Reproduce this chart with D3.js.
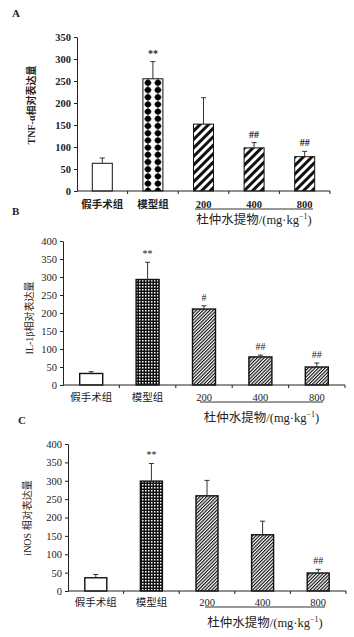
<!DOCTYPE html>
<html>
<head>
<meta charset="utf-8">
<script src="https://cdn.jsdelivr.net/npm/d3@7"></script>
<style>
  body { margin: 0; background: #fff; }
  svg { display: block; }
  text { font-family: "Liberation Serif", "Times New Roman", "Noto Sans CJK SC", serif; fill: #222; }
</style>
</head>
<body>
<svg id="chart" width="354" height="637"></svg>
<script>
// données
const categories = ["假手术组", "模型组", "200", "400", "800"];
const doseLabel = "杜仲水提物/(mg·kg";

const tnfMeans = [63, 255, 152, 98, 78];
const tnfErrors = [12, 39, 60, 12, 12];
const tnfMarks = ["", "**", "", "##", "##"];
const tnfTicks = [0, 50, 100, 150, 200, 250, 300, 350];

const il1bMeans = [32, 293, 211, 78, 50];
const il1bErrors = [5, 48, 9, 5, 11];
const il1bMarks = ["", "**", "#", "##", "##"];
const il1bTicks = [0, 50, 100, 150, 200, 250, 300, 350, 400];

const inosMeans = [36, 299, 259, 153, 49];
const inosErrors = [9, 48, 42, 37, 10];
const inosMarks = ["", "**", "", "", "##"];
const inosTicks = [0, 50, 100, 150, 200, 250, 300, 350, 400];

const svg = d3.select("#chart");
const defs = svg.append("defs");

// motifs de remplissage
function stripes(id, period, ink) {
  const p = defs.append("pattern")
    .attr("id", id)
    .attr("patternUnits", "userSpaceOnUse")
    .attr("width", period).attr("height", period)
    .attr("patternTransform", "rotate(45)");
  p.append("rect").attr("width", period).attr("height", period).attr("fill", "#fff");
  p.append("rect").attr("width", ink).attr("height", period).attr("fill", "#111");
}
stripes("wideStripes", 6, 3);
stripes("fineStripes", 2.4, 1.15);

const grid = defs.append("pattern")
  .attr("id", "grid")
  .attr("patternUnits", "userSpaceOnUse")
  .attr("width", 3).attr("height", 3);
grid.append("rect").attr("width", 3).attr("height", 3).attr("fill", "#111");
grid.append("rect").attr("x", 1).attr("y", 1).attr("width", 1.5).attr("height", 1.5).attr("fill", "#fff");

function dotPattern(id, x0) {
  const p = defs.append("pattern")
    .attr("id", id)
    .attr("patternUnits", "userSpaceOnUse")
    .attr("x", x0)
    .attr("width", 10).attr("height", 7.2);
  p.append("rect").attr("width", 10).attr("height", 7.2).attr("fill", "#fff");
  p.append("path").attr("d", "M5,0 L8.8,3.6 L5,7.2 L1.2,3.6 Z").attr("fill", "#000");
  p.append("circle").attr("cx", 5).attr("cy", 3.6).attr("r", 3).attr("fill", "#000");
}

function drawPanel(o) {
  const g = svg.append("g");

  const x = d3.scaleBand().domain(categories).range([o.left, o.right]);
  const y = d3.scaleLinear().domain([0, o.ticks[o.ticks.length - 1]]).range([o.bottom, o.top]);

  if (o.dots) dotPattern(o.dots, x("模型组") + x.bandwidth() / 2 - o.barW / 2);

  // lettre du panneau
  g.append("text").attr("x", o.letter[0]).attr("y", o.letter[1])
    .attr("font-size", 11).attr("font-weight", "bold").text(o.name);

  // barres
  g.selectAll("rect.bar").data(o.means).join("rect")
    .attr("class", "bar")
    .attr("x", (d, i) => x(categories[i]) + x.bandwidth() / 2 - o.barW / 2)
    .attr("width", o.barW)
    .attr("y", d => y(d))
    .attr("height", d => y(0) - y(d))
    .attr("fill", (d, i) => o.fills[i])
    .attr("stroke", "#111")
    .attr("stroke-width", o.barStroke);

  // barres d'erreur (seulement vers le haut)
  const cx = i => x(categories[i]) + x.bandwidth() / 2;
  g.selectAll("line.err").data(o.means).join("line")
    .attr("class", "err")
    .attr("x1", (d, i) => cx(i)).attr("x2", (d, i) => cx(i))
    .attr("y1", d => y(d)).attr("y2", (d, i) => y(d + o.errors[i]))
    .attr("stroke", "#333").attr("stroke-width", 1);
  g.selectAll("line.cap").data(o.means).join("line")
    .attr("class", "cap")
    .attr("x1", (d, i) => cx(i) - 2.5).attr("x2", (d, i) => cx(i) + 2.5)
    .attr("y1", (d, i) => y(d + o.errors[i])).attr("y2", (d, i) => y(d + o.errors[i]))
    .attr("stroke", "#333").attr("stroke-width", 1);

  // signes de significativité
  g.selectAll("text.mark").data(o.marks).join("text")
    .attr("class", "mark")
    .attr("x", (d, i) => cx(i))
    .attr("y", (d, i) => y(o.means[i] + o.errors[i]) - 5)
    .attr("text-anchor", "middle")
    .attr("font-size", 10)
    .attr("font-weight", o.bold ? "bold" : "normal")
    .text(d => d);

  // axe Y
  const ya = g.append("g")
    .attr("transform", `translate(${o.left},0)`)
    .call(d3.axisLeft(y).tickValues(o.ticks).tickSize(3).tickSizeOuter(0));
  ya.select(".domain").attr("stroke", "#222");
  ya.selectAll(".tick line").attr("stroke", "#222");
  ya.selectAll(".tick text")
    .attr("font-size", 10.5)
    .attr("font-weight", o.bold ? "bold" : "normal")
    .attr("fill", "#222");
  ya.attr("font-family", null);

  g.append("text")
    .attr("transform", `translate(${o.ylabX},${o.ylabY}) rotate(-90)`)
    .attr("text-anchor", "middle")
    .attr("font-size", 10)
    .attr("font-weight", o.bold ? "bold" : "normal")
    .text(o.ylabel);

  // axe X : ligne, graduations entre les groupes, libellés
  g.append("line")
    .attr("x1", o.left).attr("x2", o.right)
    .attr("y1", y(0)).attr("y2", y(0))
    .attr("stroke", "#222");
  g.selectAll("line.xt").data(categories).join("line")
    .attr("class", "xt")
    .attr("x1", d => x(d) + x.step()).attr("x2", d => x(d) + x.step())
    .attr("y1", y(0)).attr("y2", y(0) + 3)
    .attr("stroke", "#222");
  g.selectAll("text.cat").data(categories).join("text")
    .attr("class", "cat")
    .attr("x", d => x(d) + x.bandwidth() / 2)
    .attr("y", o.catY)
    .attr("text-anchor", "middle")
    .attr("font-size", 10.5)
    .attr("font-weight", o.bold ? "bold" : "normal")
    .text(d => d);

  // trait sous les doses et légende des doses
  g.append("line")
    .attr("x1", o.under[0]).attr("x2", o.under[1])
    .attr("y1", o.catY + 1).attr("y2", o.catY + 1)
    .attr("stroke", "#333").attr("stroke-width", 1);
  const t = g.append("text")
    .attr("x", (o.under[0] + o.under[1]) / 2)
    .attr("y", o.titleY)
    .attr("text-anchor", "middle")
    .attr("font-size", 12.5);
  t.append("tspan").text(doseLabel);
  t.append("tspan").attr("dy", -5).attr("font-size", 8).text("−1");
  t.append("tspan").attr("dy", 5).text(")");
}

drawPanel({
  name: "A", letter: [12, 17],
  means: tnfMeans, errors: tnfErrors, marks: tnfMarks, ticks: tnfTicks,
  left: 77, right: 330, top: 37, bottom: 191, barW: 20, barStroke: 1,
  dots: "dots",
  fills: ["#fff", "url(#dots)", "url(#wideStripes)", "url(#wideStripes)", "url(#wideStripes)"],
  bold: true, ylabel: "TNF-α相对表达量", ylabX: 35, ylabY: 105,
  catY: 208, under: [195, 313], titleY: 224
});

drawPanel({
  name: "B", letter: [12, 215],
  means: il1bMeans, errors: il1bErrors, marks: il1bMarks, ticks: il1bTicks,
  left: 63, right: 345, top: 241, bottom: 385, barW: 23, barStroke: 1.4,
  fills: ["#fff", "url(#grid)", "url(#fineStripes)", "url(#fineStripes)", "url(#fineStripes)"],
  bold: false, ylabel: "IL-1β相对表达量", ylabX: 33, ylabY: 318,
  catY: 401, under: [200, 323], titleY: 422
});

drawPanel({
  name: "C", letter: [18, 424],
  means: inosMeans, errors: inosErrors, marks: inosMarks, ticks: inosTicks,
  left: 68, right: 346, top: 444, bottom: 591, barW: 22, barStroke: 1.4,
  fills: ["#fff", "url(#grid)", "url(#fineStripes)", "url(#fineStripes)", "url(#fineStripes)"],
  bold: false, ylabel: "iNOS 相对表达量", ylabX: 31, ylabY: 518,
  catY: 606, under: [205, 325], titleY: 627
});
</script>
</body>
</html>
